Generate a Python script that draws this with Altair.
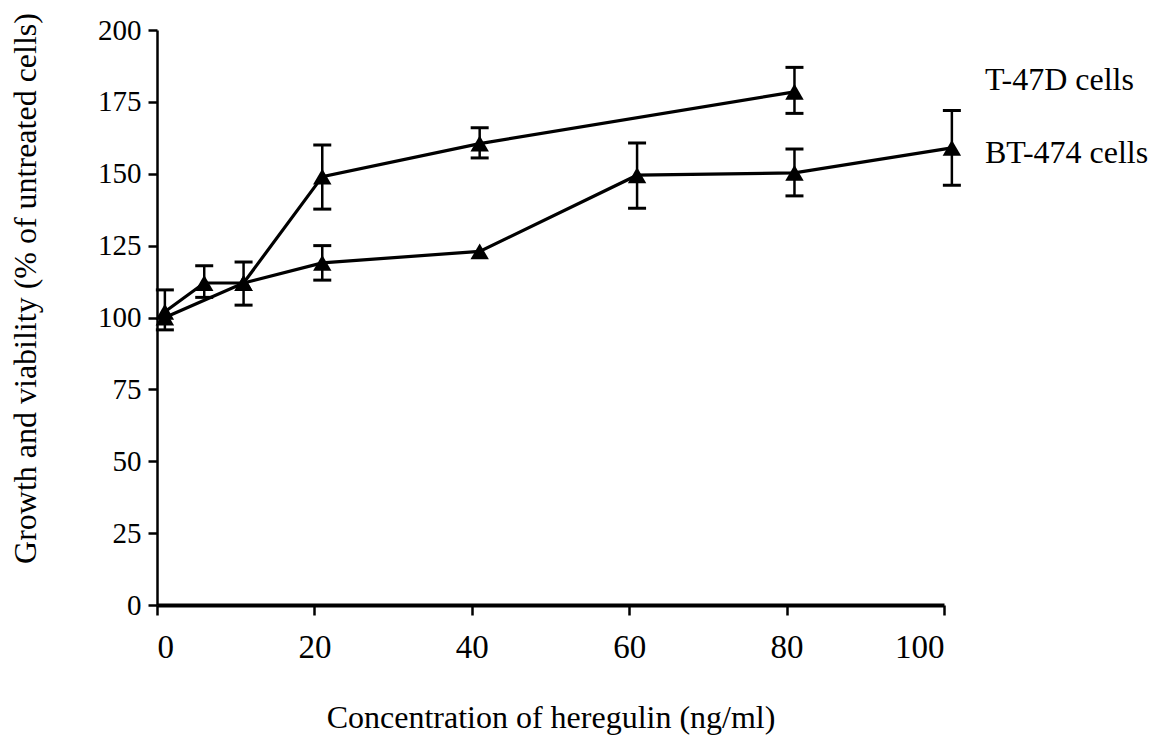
import altair as alt
import pandas as pd

# T-47D series
t47_x = [1, 6, 11, 21, 41, 81]
t47_y = [102, 112, 112, 149, 160.5, 178.5]
# BT-474 series
bt_x = [1, 11, 21, 41, 61, 81, 101]
bt_y = [100, 112, 119, 123, 149.5, 150.3, 159]

# error bars
err_x = [1, 6, 11, 21, 41, 81, 21, 61, 81, 101]
err_lo = [95.7, 107, 104.3, 137.7, 155.5, 171, 113, 138, 142.3, 146]
err_hi = [109.6, 118, 119.3, 160, 166, 187, 125, 160.7, 158.6, 172]

label_text = ["T-47D cells", "BT-474 cells"]
label_x = [105.2, 105.2]
label_y = [182.5, 157.2]

x_ticks = [0, 20, 40, 60, 80, 100]
y_ticks = [0, 25, 50, 75, 100, 125, 150, 175, 200]

pts = pd.DataFrame(
    {"x": t47_x + bt_x,
     "y": t47_y + bt_y,
     "series": ["T-47D"] * len(t47_x) + ["BT-474"] * len(bt_x)}
)
err = pd.DataFrame({"x": err_x, "lo": err_lo, "hi": err_hi})
labels = pd.DataFrame({"text": label_text, "x": label_x, "y": label_y})

FONT = "Liberation Serif"

xs = alt.Scale(domain=[0, 100], nice=False, zero=False)
ys = alt.Scale(domain=[0, 200], nice=False)

xax = alt.Axis(values=x_ticks, title="Concentration of heregulin (ng/ml)", grid=False,
               domainWidth=4, domainColor="black", tickColor="black", tickWidth=2.5,
               tickSize=10, labelFontSize=33, labelFont=FONT, labelColor="black",
               labelPadding=16, titleFont=FONT, titleFontSize=32, titleFontWeight="normal",
               titleColor="black", titlePadding=38)
yax = alt.Axis(values=y_ticks, title="Growth and viability (% of untreated cells)", grid=False,
               domainWidth=2.5, domainColor="black", tickColor="black", tickWidth=2.5,
               tickSize=9, labelFontSize=29, labelFont=FONT, labelColor="black",
               labelPadding=7, titleFont=FONT, titleFontSize=32, titleFontWeight="normal",
               titleColor="black", titlePadding=55, titleY=258)

base_x = alt.X("x:Q", scale=xs, axis=xax)
base_y = alt.Y("y:Q", scale=ys, axis=yax)

lines = alt.Chart(pts).mark_line(color="black", strokeWidth=3.2, clip=False).encode(
    x=base_x, y=base_y, detail="series:N", order="x:Q"
)
marks = alt.Chart(pts).mark_point(shape="triangle-up", filled=True, color="black",
                                  opacity=1, size=340, clip=False).encode(
    x="x:Q", y="y:Q"
)
bars = alt.Chart(err).mark_rule(color="black", strokeWidth=2.5, clip=False).encode(
    x="x:Q", y="lo:Q", y2="hi:Q"
)
cap_lo = alt.Chart(err).mark_tick(orient="horizontal", color="black", size=18,
                                   thickness=3, opacity=1, clip=False).encode(
    x="x:Q", y="lo:Q"
)
cap_hi = alt.Chart(err).mark_tick(orient="horizontal", color="black", size=18,
                                   thickness=3, opacity=1, clip=False).encode(
    x="x:Q", y="hi:Q"
)
text = alt.Chart(labels).mark_text(align="left", baseline="middle", font=FONT,
                                   fontSize=32, color="black", clip=False).encode(
    x="x:Q", y="y:Q", text="text:N"
)

chart = alt.layer(lines, bars, cap_lo, cap_hi, marks, text).properties(
    width=787, height=575,
    autosize=alt.AutoSizeParams(type="none"),
    padding={"left": 157, "top": 30, "right": 208, "bottom": 138},
    background="white",
).configure_view(stroke=None)

chart.save("out.html", embed_options={"renderer": "svg", "actions": False})
